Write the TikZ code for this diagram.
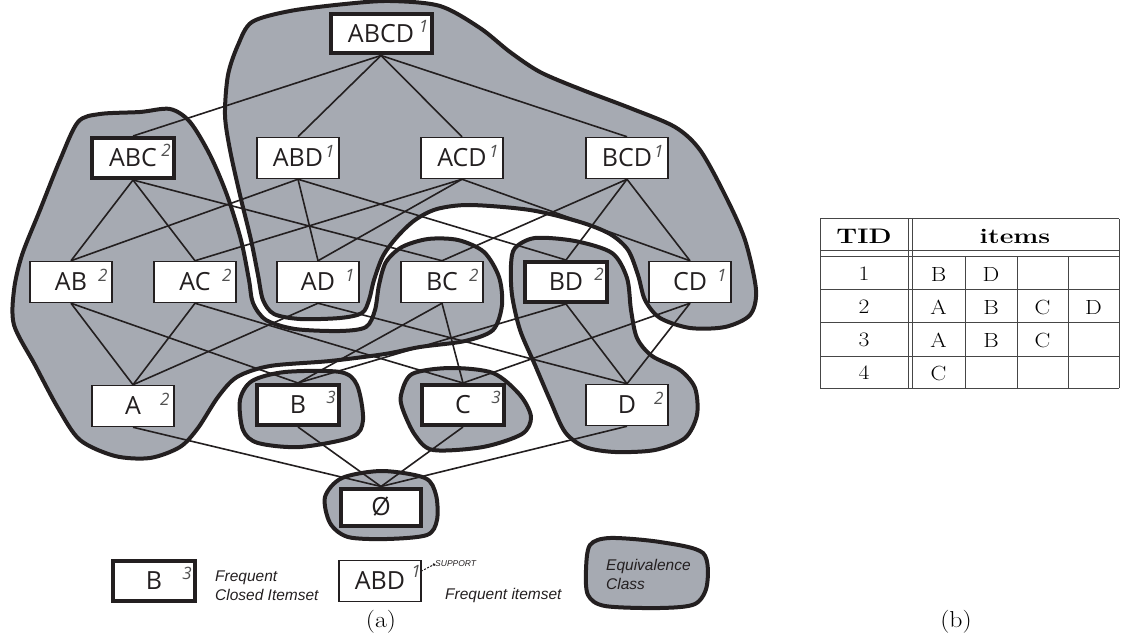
\documentclass[tikz,border=0pt]{standalone}
\usepackage{fontspec}
\usepackage{graphicx}
\usetikzlibrary{arrows.meta}
\newfontfamily\labf{Open Sans}
\newfontfamily\arf{Liberation Sans}
\definecolor{ink}{RGB}{35,31,32}
\definecolor{blobgray}{RGB}{166,170,178}
\definecolor{supgray}{RGB}{80,80,80}
\definecolor{tabline}{RGB}{70,70,70}
\newcommand\hstr[1]{\scalebox{1.15}[1]{#1}}
\newcommand\hstb[1]{\scalebox{1.27}[1]{#1}}
\begin{document}
\begin{tikzpicture}[x=1pt,y=-1pt,
 lbl/.style={draw=ink, fill=white, line width=1.5pt, minimum width=82pt, minimum height=41pt, inner sep=0pt, font=\labf\fontsize{25}{25}\selectfont, text=ink},
 fcl/.style={lbl, line width=4pt, minimum width=82pt, minimum height=40pt},
 sp/.style={label={[anchor=north east, inner sep=0pt, font=\labf\itshape\fontsize{17}{17}\selectfont, text=supgray, xshift=-5pt, yshift=-8pt]north east:#1}},
 link/.style={draw=ink, line width=1.6pt},
 blob/.style={fill=blobgray, draw=ink, line width=4pt, line join=round},
 legtxt/.style={font=\arf\itshape\fontsize{15.5}{19}\selectfont, text=ink, align=left, inner sep=0pt, anchor=west},
 cell/.style={inner sep=0pt, font=\fontsize{20.5}{20.5}\selectfont},
 hcell/.style={inner sep=0pt, font=\fontsize{21}{21}\selectfont\bfseries},
 tabrule/.style={draw=tabline, line width=1pt}
]
\useasboundingbox (0,0) rectangle (1122,644);

% ---------- equivalence class blobs ----------
% ABCD class
\draw[blob] plot[smooth cycle, tension=0.5] coordinates {
 (238,45) (252,22) (290,11) (345,4) (390,1) (440,6) (480,28) (510,52) (540,72)
 (580,89) (630,108) (675,127) (700,150) (725,195) (745,240) (756,290) (750,315)
 (725,327) (690,328) (660,318) (645,300) (638,275) (628,250) (610,234) (580,222)
 (530,210) (470,205) (437,209) (415,220) (397,237) (383,256) (374,280) (369,300)
 (362,313) (340,318) (300,319) (274,314) (263,300) (258,275) (251,240) (240,195)
 (230,150) (225,115) (228,75)};
% ABC class
\draw[blob] plot[smooth cycle, tension=0.5] coordinates {
 (78,122) (100,114) (140,112) (170,109) (190,122) (210,155) (227,195) (241,240)
 (249,280) (253,303) (266,320) (295,329) (340,331) (366,327) (375,310) (379,285)
 (386,262) (402,247) (428,239) (458,240) (484,252) (499,277) (502,305) (493,330)
 (465,341) (420,347) (385,354) (330,361) (270,366) (237,377) (218,397) (198,428)
 (180,447) (150,458) (115,456) (80,440) (58,408) (35,365) (14,325) (14,290)
 (22,255) (40,210) (60,160)};
% BD class
\draw[blob] plot[smooth cycle, tension=0.5] coordinates {
 (515,248) (535,238) (575,241) (612,253) (627,278) (631,310) (637,338) (652,356)
 (680,370) (695,388) (697,415) (685,438) (655,450) (615,452) (585,447) (565,432)
 (550,400) (535,365) (520,330) (512,295) (511,265)};
% B class
\draw[blob] plot[smooth cycle, tension=0.5] coordinates {
 (240,400) (252,381) (285,372) (340,372) (357,385) (363,420) (352,437) (300,447)
 (258,443) (243,430)};
% C class
\draw[blob] plot[smooth cycle, tension=0.5] coordinates {
 (401,395) (412,374) (450,368) (493,373) (520,395) (531,417) (522,434) (483,447)
 (433,450) (415,435) (403,410)};
% empty set class
\draw[blob] plot[smooth cycle, tension=0.5] coordinates {
 (325,497) (342,478) (382,471) (425,478) (436,495) (437,520) (427,535) (387,539)
 (348,537) (330,523)};
% legend blob
\draw[blob] plot[smooth cycle, tension=0.5] coordinates {
 (586,570) (590,545) (610,538) (660,542) (703,553) (707,585) (695,604) (660,608)
 (605,606) (588,595)};

% ---------- lattice nodes ----------
\node[fcl, minimum width=101pt, minimum height=39pt, sp=1] (ABCD) at (381,34) {ABCD};
\node[fcl, sp=2] (ABC) at (133,158) {ABC};
\node[lbl, sp=1] (ABD) at (298,158) {ABD};
\node[lbl, sp=1] (ACD) at (462,158) {ACD};
\node[lbl, sp=1] (BCD) at (627,158) {BCD};
\node[lbl, sp=2] (AB) at (71,282) {AB};
\node[lbl, sp=2] (AC) at (195,282) {AC};
\node[lbl, sp=1] (AD) at (318,282) {AD};
\node[lbl, sp=2] (BC) at (442,282) {BC};
\node[fcl, sp=2] (BD) at (566,282) {BD};
\node[lbl, sp=1] (CD) at (690,282) {CD};
\node[lbl, sp=2] (A) at (133,406) {A};
\node[fcl, sp=3] (B) at (298,405) {B};
\node[fcl, sp=3] (C) at (463,405) {C};
\node[lbl, sp=2] (D) at (627,405) {D};
\node[fcl, minimum width=80pt, minimum height=37pt] (E) at (381,507) {Ø};

% ---------- lattice edges ----------
\foreach \u/\l in {ABCD/ABC, ABCD/ABD, ABCD/ACD, ABCD/BCD,
  ABC/AB, ABC/AC, ABC/BC, ABD/AB, ABD/AD, ABD/BD, ACD/AC, ACD/AD, ACD/CD,
  BCD/BC, BCD/BD, BCD/CD,
  AB/A, AB/B, AC/A, AC/C, AD/A, AD/D, BC/B, BC/C, BD/B, BD/D, CD/C, CD/D,
  A/E, B/E, C/E, D/E}
  \draw[link] (\u.south) -- (\l.north);

% ---------- legend ----------
\node[fcl, sp=3] (LB) at (154,581) {B};
\node[legtxt] (LBt) at (215,586) {Frequent\\Closed Itemset};
\node[lbl] (LA) at (380,581) {ABD};
\node[inner sep=0pt, anchor=north east, font=\labf\itshape\fontsize{17}{17}\selectfont, text=supgray] (LAs) at (421,565) {1};
\node[inner sep=0pt, anchor=west, font=\arf\itshape\fontsize{8.5}{9}\selectfont, text=ink] (sup) at (435,564) {SUPPORT};
\draw[ink, line width=1pt, dash pattern=on 2pt off 1.5pt, -{Circle[length=2.5pt]}] (LAs.east) -- (sup.west);
\node[legtxt] (LAt) at (445,595) {Frequent itemset};
\node[legtxt] (EQt) at (606,574) {Equivalence\\Class};

% ---------- captions ----------
\node[inner sep=0pt, font=\fontsize{23}{23}\selectfont] (capa) at (381,622) {\scalebox{1.12}[1]{(a)}};
\node[inner sep=0pt, font=\fontsize{23}{23}\selectfont] (capb) at (956,622) {\scalebox{1.12}[1]{(b)}};

% ---------- table ----------
\foreach \yy in {219,251,257,290,323,356,388}
  \draw[tabrule] (820,\yy) -- (1119,\yy);
\foreach \xx in {820,908,912,1119}
  \draw[tabrule] (\xx,219) -- (\xx,388);
\foreach \xx in {965,1017,1068}
  \draw[tabrule] (\xx,257) -- (\xx,388);
\node[hcell] (tid) at (864,236) {\hstb{TID}};
\node[hcell] (items) at (1015,236) {\hstb{items}};
\node[cell] (r1) at (864,274) {\hstr{1}};
\node[cell] (r1a) at (938.5,274) {\hstr{B}};
\node[cell] (r1b) at (991,274) {\hstr{D}};
\node[cell] (r2) at (864,307) {\hstr{2}};
\node[cell] (r2a) at (938.5,307) {\hstr{A}};
\node[cell] (r2b) at (991,307) {\hstr{B}};
\node[cell] (r2c) at (1042.5,307) {\hstr{C}};
\node[cell] (r2d) at (1093.5,307) {\hstr{D}};
\node[cell] (r3) at (864,340) {\hstr{3}};
\node[cell] (r3a) at (938.5,340) {\hstr{A}};
\node[cell] (r3b) at (991,340) {\hstr{B}};
\node[cell] (r3c) at (1042.5,340) {\hstr{C}};
\node[cell] (r4) at (864,373) {\hstr{4}};
\node[cell] (r4a) at (938.5,373) {\hstr{C}};
\end{tikzpicture}
\end{document}
